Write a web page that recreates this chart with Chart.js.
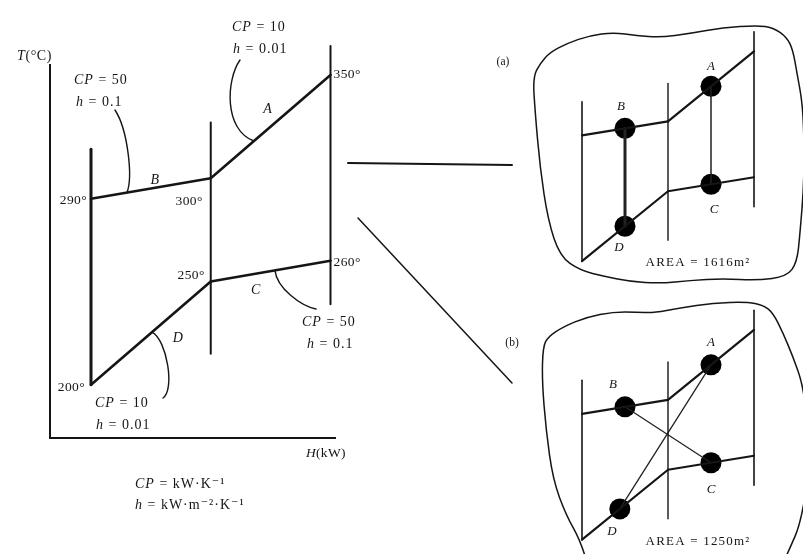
<!DOCTYPE html>
<html>
<head>
<meta charset="utf-8">
<script src="https://cdn.jsdelivr.net/npm/chart.js@4.4.1/dist/chart.umd.min.js"></script>
<style>
  html, body { margin: 0; padding: 0; background: #ffffff; }
  #wrap { position: relative; width: 803px; height: 554px; overflow: hidden; }
  #wrap canvas { position: absolute; left: 0; top: 0; }
</style>
</head>
<body>
<div id="wrap">
  <canvas id="main" width="803" height="554"></canvas>
  <canvas id="panelA" width="803" height="554"></canvas>
  <canvas id="panelB" width="803" height="554"></canvas>
</div>
<script>
// ---- Stream data -------------------------------------------------------
const streams = ['A', 'B', 'C', 'D'];
const tLow    = [300, 290, 250, 200];     // °C at the cold end of each stream
const tHigh   = [350, 300, 260, 250];     // °C at the hot end
const cpVals  = [10, 50, 50, 10];         // kW·K⁻¹
const hVals   = [0.01, 0.1, 0.1, 0.01];   // kW·m⁻²·K⁻¹
const hStart  = [500, 0, 500, 0];         // kW at the cold end
const hEnd    = hStart.map((h0, i) => h0 + cpVals[i] * (tHigh[i] - tLow[i]));

// ---- Exchanger networks (a) and (b) -----------------------------------
const panelNames = ['(a)', '(b)'];
const panelAreas = [1616, 1250];                               // m²
const matchPairs = [[['B', 'D'], ['A', 'C']], [['B', 'C'], ['A', 'D']]];
const matchH     = [[[250, 250], [750, 750]], [[250, 750], [750, 220]]]; // kW along each stream

// ---- Helpers ------------------------------------------------------------
const INK = '#151515';
const SERIF = '"Liberation Serif", "DejaVu Serif", serif';

function idx(name) { return streams.indexOf(name); }
function tempAt(name, h) {
  const i = idx(name);
  return tLow[i] + (h - hStart[i]) / (hEnd[i] - hStart[i]) * (tHigh[i] - tLow[i]);
}
const boundaryH = [...new Set(hStart.concat(hEnd))].sort((a, b) => a - b);
function endTemps(H) {
  const ts = [];
  streams.forEach((s, i) => {
    if (hStart[i] === H) ts.push(tLow[i]);
    if (hEnd[i] === H) ts.push(tHigh[i]);
  });
  return ts;
}
// how far (°C) each interval boundary reaches below / above the streams meeting it
const boundaryReach = [[0, 24], [35, 27], [21, 14]];

function segment(points, width, color) {
  return {
    data: points, showLine: true, borderColor: color || INK, borderWidth: width,
    pointRadius: 0, fill: false, clip: false, tension: 0, borderCapStyle: 'round'
  };
}
function boundaryDatasets(widths) {
  return boundaryH.map((H, k) => {
    const ts = endTemps(H);
    const lo = Math.min(...ts) - boundaryReach[k][0];
    const hi = Math.max(...ts) + boundaryReach[k][1];
    return segment([{ x: H, y: lo }, { x: H, y: hi }], widths[k]);
  });
}
function streamDatasets(width) {
  return streams.map((s, i) => segment([{ x: hStart[i], y: tLow[i] }, { x: hEnd[i], y: tHigh[i] }], width));
}

function richText(ctx, parts, x, y, opts) {
  opts = opts || {};
  const size = opts.size || 13;
  ctx.save();
  ctx.fillStyle = INK;
  ctx.textBaseline = 'middle';
  ctx.textAlign = 'left';
  ctx.letterSpacing = (opts.spacing || 0) + 'px';
  const fontOf = it => (it ? 'italic ' : '') + size + 'px ' + SERIF;
  let total = 0;
  const widths = parts.map(([s, it]) => { ctx.font = fontOf(it); const w = ctx.measureText(s).width; total += w; return w; });
  let cx = opts.align === 'right' ? x - total : opts.align === 'center' ? x - total / 2 : x;
  parts.forEach(([s, it], k) => { ctx.font = fontOf(it); ctx.fillText(s, cx, y); cx += widths[k]; });
  ctx.restore();
}

function smoothClosed(ctx, pts) {
  const n = pts.length;
  const mid = (a, b) => [(a[0] + b[0]) / 2, (a[1] + b[1]) / 2];
  let m = mid(pts[n - 1], pts[0]);
  ctx.beginPath();
  ctx.moveTo(m[0], m[1]);
  for (let i = 0; i < n; i++) {
    const p = pts[i], q = pts[(i + 1) % n];
    m = mid(p, q);
    ctx.quadraticCurveTo(p[0], p[1], m[0], m[1]);
  }
  ctx.closePath();
}

const commonOptions = {
  responsive: false,
  animation: false,
  events: [],
  plugins: { legend: { display: false }, tooltip: { enabled: false } }
};

// ---- Main T–H diagram --------------------------------------------------
const tempLabels = [ // stream, end, dx, dy, align
  ['B', 'low', -4, 2, 'right'], ['B', 'high', -8, 23, 'right'], ['A', 'high', 3, 0, 'left'],
  ['D', 'low', -6, 3, 'right'], ['D', 'high', -6, -6, 'right'], ['C', 'high', 3, 2, 'left']
];
const letterOffsets = { A: [-3, -17], B: [4, -8], C: [-15, 19], D: [27, 5] };
const leaders = [ // stream, anchor H, text position, curve start, control offsets
  { s: 'B', h: 150, tx: 74,  ty: 80,  hx: 76,  start: [115, 110], c1: [13, 20],  c2: [6, -15] },
  { s: 'A', h: 680, tx: 232, ty: 27,  hx: 233, start: [240, 60],  c1: [-14, 20], c2: [-30, -11] },
  { s: 'C', h: 768, tx: 302, ty: 322, hx: 307, start: [316, 309], c1: [-15, -3], c2: [2, 18] },
  { s: 'D', h: 255, tx: 95,  ty: 403, hx: 96,  start: [163, 398], c1: [12, -8],  c2: [15, 8] }
];

const mainDecor = {
  id: 'mainDecor',
  afterDatasetsDraw(chart) {
    const { ctx, chartArea: ca, scales: { x, y } } = chart;
    ctx.save();
    ctx.strokeStyle = INK;
    ctx.lineCap = 'square';
    // axes
    ctx.lineWidth = 2;
    ctx.beginPath();
    ctx.moveTo(ca.left, ca.top);
    ctx.lineTo(ca.left, ca.bottom);
    ctx.lineTo(ca.right, ca.bottom);
    ctx.stroke();
    // leaders
    ctx.lineWidth = 1.4;
    ctx.lineCap = 'round';
    leaders.forEach(L => {
      const ex = x.getPixelForValue(L.h), ey = y.getPixelForValue(tempAt(L.s, L.h));
      const [sx, sy] = L.start;
      ctx.beginPath();
      ctx.moveTo(sx, sy);
      ctx.bezierCurveTo(sx + L.c1[0], sy + L.c1[1], ex + L.c2[0], ey + L.c2[1], ex, ey);
      ctx.stroke();
    });
    // links to the two networks
    ctx.lineWidth = 2;
    ctx.beginPath(); ctx.moveTo(348, 163); ctx.lineTo(512, 165); ctx.stroke();
    ctx.lineWidth = 1.5;
    ctx.beginPath(); ctx.moveTo(358, 218); ctx.lineTo(512, 383); ctx.stroke();
    ctx.restore();

    // axis titles
    richText(ctx, [['T', true], ['(°C)', false]], 17, 56, { size: 14, spacing: 0.6 });
    richText(ctx, [['H', true], ['(kW)', false]], 306, 453, { size: 13.5, spacing: 0.3 });
    // temperatures at stream ends
    tempLabels.forEach(([s, end, dx, dy, align]) => {
      const i = idx(s);
      const H = end === 'low' ? hStart[i] : hEnd[i];
      const T = end === 'low' ? tLow[i] : tHigh[i];
      richText(ctx, [[T + '°', false]], x.getPixelForValue(H) + dx, y.getPixelForValue(T) + dy,
        { size: 13.5, align, spacing: 0.4 });
    });
    // stream letters
    streams.forEach((s, i) => {
      const hm = (hStart[i] + hEnd[i]) / 2;
      const [dx, dy] = letterOffsets[s];
      richText(ctx, [[s, true]], x.getPixelForValue(hm) + dx, y.getPixelForValue(tempAt(s, hm)) + dy,
        { size: 14, align: 'center' });
    });
    // CP / h annotations
    leaders.forEach(L => {
      const i = idx(L.s);
      richText(ctx, [['CP', true], [' = ' + cpVals[i], false]], L.tx, L.ty, { size: 14, spacing: 1 });
      richText(ctx, [['h', true], [' = ' + hVals[i], false]], L.hx, L.ty + 22, { size: 14, spacing: 1 });
    });
    // units
    richText(ctx, [['CP', true], [' = kW·K⁻¹', false]], 135, 484, { size: 14, spacing: 1 });
    richText(ctx, [['h', true], [' = kW·m⁻²·K⁻¹', false]], 135, 505, { size: 14, spacing: 1 });
  }
};

new Chart(document.getElementById('main'), {
  type: 'scatter',
  data: { datasets: boundaryDatasets([3, 2, 2]).concat(streamDatasets(2.6)) },
  options: Object.assign({}, commonOptions, {
    layout: { padding: { left: 50, top: 65, right: 468, bottom: 116 } },
    scales: {
      x: { type: 'linear', min: -171.2, max: 1018.8, display: false },
      y: { type: 'linear', min: 174.2, max: 354.8, display: false }
    }
  }),
  plugins: [mainDecor]
});

// ---- Network panels ------------------------------------------------------
// outlines around each network, relative to the panel's plot area corner
const outlines = [
  [[-49, 26], [-42, 12], [-32, 1], [-15, -8], [8, -16], [31, -19], [55, -16], [78, -14], [108, -18],
   [141, -24], [175, -26], [191, -24], [205, -14], [211, -1], [215, 22], [220, 49], [222, 82],
   [222, 132], [218, 182], [215, 211], [205, 225], [175, 229], [141, 227], [108, 229], [78, 232],
   [48, 230], [23, 225], [-2, 219], [-22, 205], [-34, 169], [-42, 116], [-47, 59]],
  [[-39, 17], [-34, 7], [-19, -3], [5, -13], [31, -18], [55, -18], [71, -17], [98, -22], [131, -27],
   [165, -28], [181, -25], [191, -17], [201, 3], [211, 27], [221, 55], [226, 100], [226, 150],
   [218, 195], [208, 218], [198, 240], [118, 252], [8, 242], [-2, 210], [-16, 185], [-29, 150],
   [-36, 100], [-40, 50]]
];
const panelLabelPos = [[-79, 11], [-70, 13]];
const panelLetterOffsets = [
  { A: [0, -20], B: [-4, -22], C: [3, 25], D: [-6, 21] },
  { A: [0, -22], B: [-12, -22], C: [0, 27], D: [-8, 23] }
];
const matchWidths = [[3, 1.5], [1.3, 1.3]];

function panelChart(canvasId, k, top) {
  const datasets = boundaryDatasets([1.6, 1.4, 1.6]).concat(streamDatasets(2.2));
  const blobs = [];
  matchPairs[k].forEach((pair, j) => {
    const pts = pair.map((s, n) => ({ x: matchH[k][j][n], y: tempAt(s, matchH[k][j][n]) }));
    datasets.push(segment(pts, matchWidths[k][j], '#222'));
    pts.forEach((p, n) => blobs.push(Object.assign({ name: pair[n] }, p)));
  });
  datasets.push({
    data: blobs, showLine: false, pointRadius: 10.5, pointBackgroundColor: '#000',
    pointBorderColor: '#000', pointBorderWidth: 0, clip: false
  });

  const decor = {
    id: 'panelDecor' + k,
    beforeDatasetsDraw(chart) {
      const { ctx, chartArea: ca } = chart;
      ctx.save();
      ctx.strokeStyle = INK;
      ctx.lineWidth = 1.5;
      smoothClosed(ctx, outlines[k].map(([dx, dy]) => [ca.left + dx, ca.top + dy]));
      ctx.stroke();
      ctx.restore();
    },
    afterDatasetsDraw(chart) {
      const { ctx, chartArea: ca, scales: { x, y } } = chart;
      blobs.forEach(b => {
        const [dx, dy] = panelLetterOffsets[k][b.name];
        richText(ctx, [[b.name, true]], x.getPixelForValue(b.x) + dx, y.getPixelForValue(b.y) + dy,
          { size: 13, align: 'center' });
      });
      richText(ctx, [['AREA = ' + panelAreas[k] + 'm²', false]], ca.left + 116, ca.bottom + 1.5,
        { size: 13, align: 'center', spacing: 1.2 });
      richText(ctx, [[panelNames[k], false]], ca.left + panelLabelPos[k][0], ca.top + panelLabelPos[k][1],
        { size: 11.5, align: 'center' });
    }
  };

  const plotH = 209.8;
  new Chart(document.getElementById(canvasId), {
    type: 'scatter',
    data: { datasets },
    options: Object.assign({}, commonOptions, {
      layout: { padding: { left: 582, right: 49, top: top, bottom: 554 - top - plotH } },
      scales: {
        x: { type: 'linear', min: 0, max: 1000, display: false },
        y: { type: 'linear', min: 200, max: 350, display: false }
      }
    }),
    plugins: [decor]
  });
}

panelChart('panelA', 0, 51.4);
panelChart('panelB', 1, 329.9);
</script>
</body>
</html>
